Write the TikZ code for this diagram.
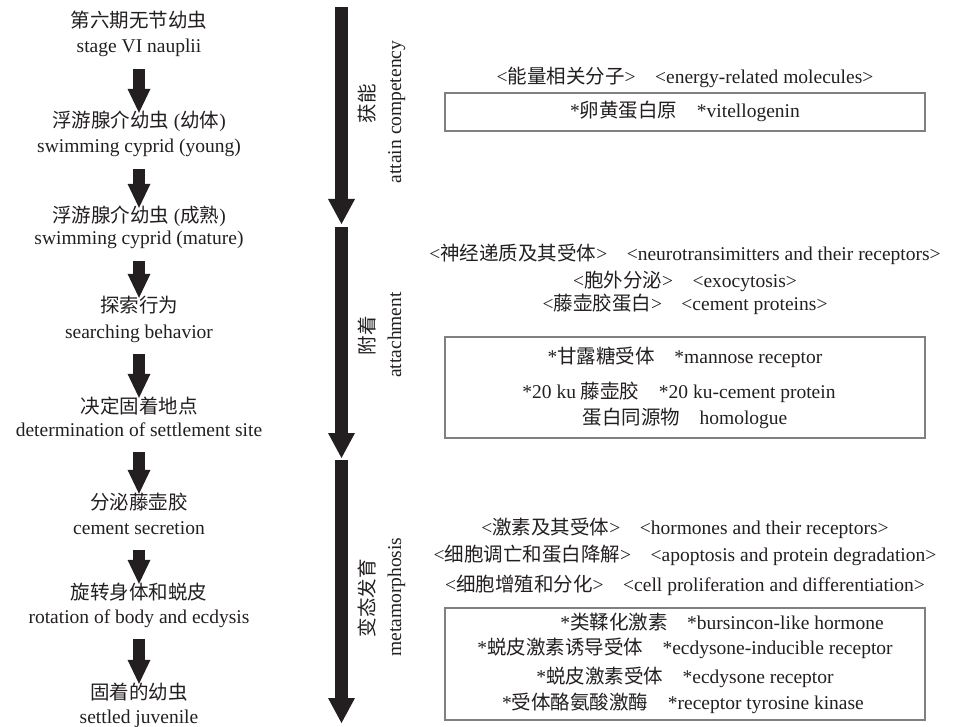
\documentclass[tikz,border=0pt]{standalone}
\usepackage{fontspec}
\setmainfont{Liberation Serif}
\newfontfamily\cjkfont{Noto Sans CJK SC}
\newcommand{\zh}[1]{{\cjkfont #1}}
\usetikzlibrary{arrows.meta}
\definecolor{ink}{RGB}{35,31,32}

\begin{document}
\begin{tikzpicture}[x=1pt, y=-1pt, font=\fontsize{19.5}{24}\selectfont, text=ink,
   txt/.style={inner sep=0pt, text height=15pt, text depth=3pt},
   stagearrow/.style={ink, line width=12pt, shorten <=13pt,
      -{Triangle[width=23pt,length=24pt,line width=0pt]}},
   phasearrow/.style={ink, line width=13.5pt,
      -{Triangle[width=27pt,length=25pt,line width=0pt]}},
   infobox/.style={draw=black!50, line width=2pt, minimum width=480pt, inner sep=0pt}]
   \useasboundingbox (0,0) rectangle (956,727);
   % settlement stages
   \foreach \i/\y/\z/\a/\b in
     { 1/22/47/{\zh{第六期无节幼虫}}/{stage VI nauplii},
       2/122/147/{\zh{浮游腺介幼虫} (\zh{幼体})}/{swimming cyprid (young)},
       3/217/239/{\zh{浮游腺介幼虫} (\zh{成熟})}/{swimming cyprid (mature)},
       4/307/332/{\zh{探索行为}}/{searching behavior},
       5/407/430/{\zh{决定固着地点}}/{determination of settlement site},
       6/503/528/{\zh{分泌藤壶胶}}/{cement secretion},
       7/593/617/{\zh{旋转身体和蜕皮}}/{rotation of body and ecdysis},
       8/693/717/{\zh{固着的幼虫}}/{settled juvenile}
     }
     {
       \node[txt] (zh\i) at (139,\y) {\a};
       \node[txt] (en\i) at (139,\z) {\b};
     }
   \foreach \i [evaluate=\i as \j using int(\i+1)] in {1,...,7}
     \draw[stagearrow] (en\i) -- (zh\j);
   % phases
   \foreach \i/\s/\e/\c/\d/\a/\b in
     { 1/7/224/104/112/{\zh{获能}}/{attain competency},
       2/227/458/336/335/{\zh{附着}}/{attachment},
       3/460/723/598/597/{\zh{变态发育}}/{metamorphosis}
     }
     {
       \coordinate (start\i) at (341.5,\s);
       \coordinate (end\i) at (341.5,\e);
       \draw[phasearrow] (start\i) -- (end\i);
       \node[txt, rotate=90] (phasezh\i) at (368,\c) {\a};
       \node[txt, rotate=90] (phaseen\i) at (395,\d) {\b};
     }
   % molecules
   \foreach \n/\y/\t in
     { 1/78/{<\zh{能量相关分子}>\quad<energy-related molecules>},
       2/255/{<\zh{神经递质及其受体}>\quad<neurotransimitters and their receptors>},
       3/282/{<\zh{胞外分泌}>\quad<exocytosis>},
       4/305/{<\zh{藤壶胶蛋白}>\quad<cement proteins>},
       5/528/{<\zh{激素及其受体}>\quad<hormones and their receptors>},
       6/555/{<\zh{细胞调亡和蛋白降解}>\quad<apoptosis and protein degradation>},
       7/585/{<\zh{细胞增殖和分化}>\quad<cell proliferation and differentiation>}
     }
     \node[txt] (group\n) at (685,\y) {\t};
   \node[infobox, minimum height=38pt] (box1) at (685,112) {};
   \node[infobox, minimum height=101pt] (box2) at (685,387.5) {};
   \node[infobox, minimum height=112pt] (box3) at (685,664) {};
   \foreach \n/\x/\y/\t in
     { 1/685/112/{*\zh{卵黄蛋白原}\quad*vitellogenin},
       2/685/357/{*\zh{甘露糖受体}\quad*mannose receptor},
       3/679/393/{*20 ku \zh{藤壶胶}\quad*20 ku-cement protein},
       4/685/418/{\zh{蛋白同源物}\quad homologue},
       5/722/623/{*\zh{类鞣化激素}\quad*bursincon-like hormone},
       6/685/648/{*\zh{蜕皮激素诱导受体}\quad*ecdysone-inducible receptor},
       7/685/677/{*\zh{蜕皮激素受体}\quad*ecdysone receptor},
       8/683/703/{*\zh{受体酪氨酸激酶}\quad*receptor tyrosine kinase}
     }
     \node[txt] (item\n) at (\x,\y) {\t};
\end{tikzpicture}
\end{document}
